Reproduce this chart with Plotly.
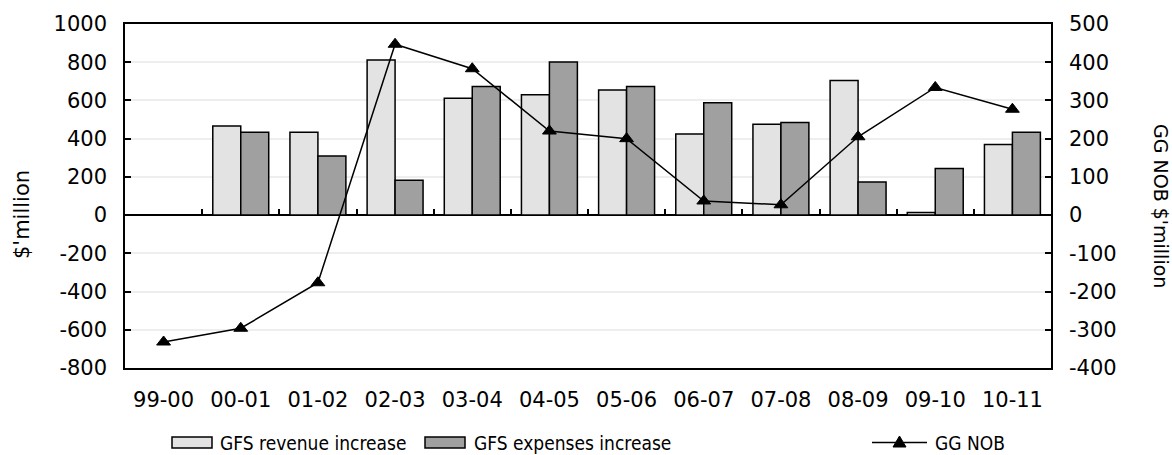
import plotly.graph_objects as go

# Financial years
years = ["99-00", "00-01", "01-02", "02-03", "03-04", "04-05",
         "05-06", "06-07", "07-08", "08-09", "09-10", "10-11"]

# Year-on-year increases ($'million, left axis)
revenue_increase = [None, 466, 434, 811, 611, 630, 654, 424, 476, 705, 14, 370]
expenses_increase = [None, 434, 309, 182, 673, 801, 673, 588, 485, 173, 244, 433]

# General government net operating balance ($'million, right axis)
gg_nob = [-332, -296, -177, 447, 383, 220, 200, 37, 27, 205, 334, 277]

left_ticks = list(range(-800, 1001, 200))
right_ticks = list(range(-400, 501, 100))

FONT = "DejaVu Sans"
LEG_FONT = "DejaVu Sans Condensed"
REV_FILL = "#e3e3e3"
EXP_FILL = "#a0a0a0"

# plot area in pixels (used to place legend / titles in paper units)
W, H = 1172, 455
L, R, T, B = 125, 121, 24, 87
PW, PH = W - L - R, H - T - B


def px_x(px):
    return (px - L) / PW


def px_y(py):
    return (H - B - py) / PH


fig = go.Figure()

fig.add_trace(go.Bar(
    x=years, y=revenue_increase, name="GFS revenue increase",
    marker=dict(color=REV_FILL, line=dict(color="black", width=1.5)),
    showlegend=False,
))
fig.add_trace(go.Bar(
    x=years, y=expenses_increase, name="GFS expenses increase",
    marker=dict(color=EXP_FILL, line=dict(color="black", width=1.5)),
    showlegend=False,
))
fig.add_trace(go.Scatter(
    x=years, y=gg_nob, name="GG NOB", yaxis="y2",
    mode="lines+markers",
    line=dict(color="black", width=1.5),
    marker=dict(symbol="triangle-up", size=12, color="black",
                line=dict(color="black", width=1)),
    showlegend=False,
))

# helper trace so the category-boundary tick axis at y=0 is rendered
boundaries = [i + 0.5 for i in range(len(years) - 1)]
fig.add_trace(go.Scatter(
    x=boundaries, y=[0] * len(boundaries), xaxis="x2", yaxis="y",
    mode="markers", marker=dict(opacity=0), hoverinfo="skip",
    showlegend=False,
))

zero_pos = (0 - left_ticks[0]) / (left_ticks[-1] - left_ticks[0])

fig.update_layout(
    width=W, height=H,
    margin=dict(l=L, r=R, t=T, b=B, pad=0),
    paper_bgcolor="white", plot_bgcolor="white",
    font=dict(family=FONT, size=21, color="black"),
    barmode="group", bargap=0.275, bargroupgap=0,
    xaxis=dict(
        type="category", range=[-0.5, len(years) - 0.5],
        showline=True, linecolor="black", linewidth=1.5, mirror=True,
        ticks="", showgrid=False, zeroline=False,
        ticklabelstandoff=12,
        tickfont=dict(family=FONT, size=21, color="black"),
    ),
    xaxis2=dict(
        overlaying="x", anchor="free", position=zero_pos, side="bottom",
        range=[-0.5, len(years) - 0.5],
        tickvals=boundaries, ticks="inside", ticklen=6, tickwidth=1.5,
        tickcolor="black", showticklabels=False,
        showline=False, showgrid=False, zeroline=False,
    ),
    yaxis=dict(
        range=[left_ticks[0], left_ticks[-1]], tickvals=left_ticks,
        ticktext=[str(v) for v in left_ticks],
        ticks="inside", ticklen=6, tickwidth=1.5, tickcolor="black",
        showline=True, linecolor="black", linewidth=1.5,
        showgrid=True, gridcolor="#eeeeee", gridwidth=1.5,
        zeroline=True, zerolinecolor="black", zerolinewidth=1.5,
        ticklabelstandoff=12,
        tickfont=dict(family=FONT, size=21, color="black"),
    ),
    yaxis2=dict(
        overlaying="y", side="right",
        range=[right_ticks[0], right_ticks[-1]], tickvals=right_ticks,
        ticktext=[str(v) for v in right_ticks],
        ticks="inside", ticklen=6, tickwidth=1.5, tickcolor="black",
        showline=True, linecolor="black", linewidth=1.5,
        showgrid=False, zeroline=False,
        ticklabelstandoff=12,
        tickfont=dict(family=FONT, size=21, color="black"),
    ),
)

# axis titles
fig.add_annotation(text="$'million", xref="paper", yref="paper",
                   x=px_x(22), y=px_y(215), xanchor="center", yanchor="middle",
                   showarrow=False, textangle=-90,
                   font=dict(family=FONT, size=21, color="black"))
fig.add_annotation(text="GG NOB $'million", xref="paper", yref="paper",
                   x=px_x(1161), y=px_y(206), xanchor="center", yanchor="middle",
                   showarrow=False, textangle=90,
                   font=dict(family=FONT, size=19, color="black"))

# legend drawn as swatches + labels below the plot
leg_y = px_y(442.5)
legend_items = [
    ("GFS revenue increase", REV_FILL, 192, 218),
    ("GFS expenses increase", EXP_FILL, 445, 472),
]
for label, fill, cx, tx in legend_items:
    fig.add_shape(type="rect", xref="paper", yref="paper",
                  xsizemode="pixel", ysizemode="pixel",
                  xanchor=px_x(cx), yanchor=leg_y,
                  x0=-20, x1=20, y0=-5.5, y1=5.5,
                  fillcolor=fill, line=dict(color="black", width=1.5))
    fig.add_annotation(text=label, xref="paper", yref="paper",
                       x=px_x(tx), y=leg_y, xanchor="left", yanchor="middle",
                       showarrow=False,
                       font=dict(family=LEG_FONT, size=19, color="black"))

fig.add_shape(type="line", xref="paper", yref="paper",
              xsizemode="pixel", ysizemode="pixel",
              xanchor=px_x(899.5), yanchor=leg_y,
              x0=-27.5, x1=27.5, y0=0, y1=0,
              line=dict(color="black", width=1.5))
fig.add_shape(type="path", xref="paper", yref="paper",
              xsizemode="pixel", ysizemode="pixel",
              xanchor=px_x(899.5), yanchor=leg_y,
              path="M -6.5,-4.5 L 6.5,-4.5 L 0,6.5 Z",
              fillcolor="black", line=dict(color="black", width=1))
fig.add_annotation(text="GG NOB", xref="paper", yref="paper",
                   x=px_x(933), y=leg_y, xanchor="left", yanchor="middle",
                   showarrow=False,
                   font=dict(family=LEG_FONT, size=19, color="black"))

fig.write_html("out.html")
